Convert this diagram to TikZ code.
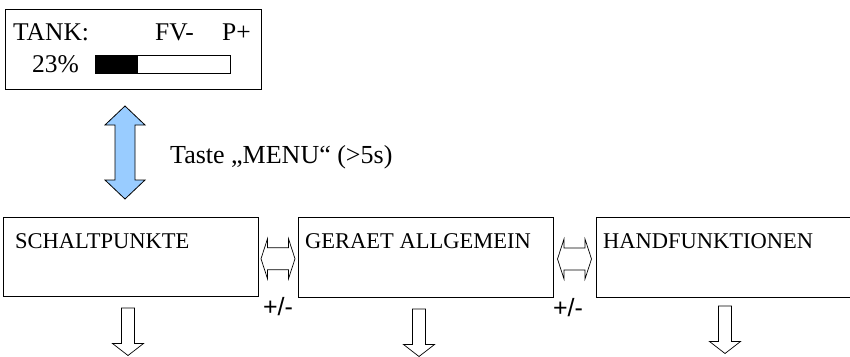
\documentclass[tikz,border=0pt]{standalone}
\usepackage{fontspec}
\usetikzlibrary{calc}
\setmainfont{Liberation Serif}
\newfontfamily\serifmain{Liberation Serif}
\newfontfamily\labelsans{Liberation Sans}
\definecolor{arrowblue}{RGB}{153,204,255}
\tikzset{
  frame/.style={draw=black, line width=0.9pt, fill=white, inner sep=0pt, outer sep=0pt, anchor=north west},
  toptext/.style={anchor=base west, inner sep=0pt, font=\serifmain\fontsize{25.5}{30}\selectfont},
  boxtext/.style={anchor=base west, inner sep=0pt, font=\serifmain\fontsize{22.5}{27}\selectfont},
  pmtext/.style={anchor=base, inner sep=0pt, font=\labelsans\fontsize{25}{29}\selectfont},
  bluearrow/.style={draw=black, line width=0.8pt, fill=arrowblue, line join=miter},
  whitearrow/.style={draw=black, line width=0.7pt, fill=white, line join=miter},
}
\begin{document}
\begin{tikzpicture}[x=1pt,y=-1pt]
\useasboundingbox (0,0) rectangle (850,356);
% tank display
\node[frame, minimum width=256pt, minimum height=80pt] (tank) at (5,9) {};
\node[toptext] (tanklbl) at (13,40) {TANK:};
\node[toptext] (fv) at (155,40) {FV-};
\node[toptext] (pp) at (222,40) {P+};
\node[toptext] (pct) at (32,72) {23\%};
\node[frame, line width=0.8pt, minimum width=135pt, minimum height=18pt] (bar) at (95,55) {};
\fill[black] (bar.north west) rectangle ($(bar.south west)+(43,0)$);
\draw[line width=0.8pt] (bar.north west) rectangle (bar.south east);
% menu boxes
\node[frame, minimum width=255pt, minimum height=79pt] (schalt) at (3,217) {};
\node[frame, minimum width=255pt, minimum height=80pt] (geraet) at (298,217) {};
\node[frame, minimum width=254pt, minimum height=80pt] (hand) at (596,217) {};
\node[boxtext] (schaltlbl) at (15,248) {SCHALTPUNKTE};
\node[boxtext] (geraetlbl) at (305,248) {GERAET ALLGEMEIN};
\node[boxtext] (handlbl) at (603,248) {HANDFUNKTIONEN};
% blue double arrow between tank and menu
\coordinate (menuarrow) at (125,152.5);
\draw[bluearrow, shift={(menuarrow)}]
  (0,-46.5) -- (20,-27.5) -- (10,-27.5) -- (10,27.5) -- (20,27.5) -- (0,46.5)
  -- (-20,27.5) -- (-10,27.5) -- (-10,-27.5) -- (-20,-27.5) -- cycle;
\node[toptext, font=\serifmain\fontsize{26}{30}\selectfont] (taste) at (170,163) {Taste „MENU“ (>5s)};
% horizontal double arrows
\coordinate (lr1) at ($(schalt.east)!0.5!(geraet.west)+(0,2)$);
\coordinate (lr2) at ($(geraet.east)!0.5!(hand.west)+(0,2)$);
\foreach \c in {lr1,lr2}{
  \draw[whitearrow, shift={(\c)}]
    (-17,0) -- (-10.5,-20) -- (-10.5,-11) -- (10.5,-11) -- (10.5,-20) -- (17,0)
    -- (10.5,20) -- (10.5,11) -- (-10.5,11) -- (-10.5,20) -- cycle;
}
\node[pmtext] (pm1) at ($(schalt.south east)!0.5!(geraet.south west)+(0,19)$) {+/-};
\node[pmtext] (pm2) at ($(geraet.south east)!0.5!(hand.south west)+(-6.5,19)$) {+/-};
% down arrows
\coordinate (d1) at (128,308);
\coordinate (d2) at (419,309);
\coordinate (d3) at (725,306);
\foreach \c in {d1,d2,d3}{
  \draw[whitearrow, shift={(\c)}]
    (-6.5,0) -- (6.5,0) -- (6.5,35.5) -- (15.5,35.5) -- (0,47.5) -- (-15.5,35.5) -- (-6.5,35.5) -- cycle;
}
\end{tikzpicture}
\end{document}
